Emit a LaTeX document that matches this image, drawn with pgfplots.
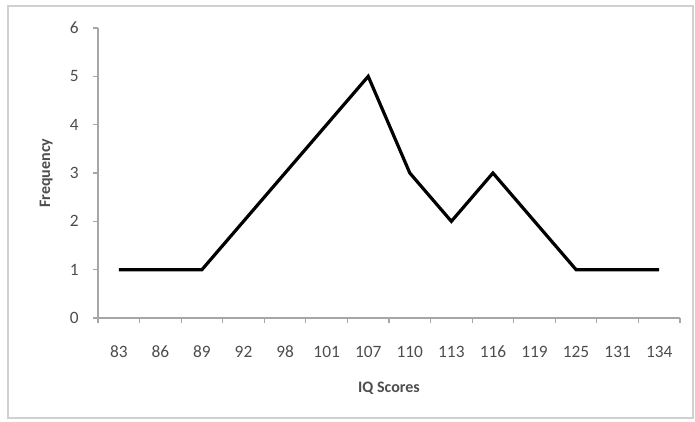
\documentclass[border=0pt]{standalone}
\usepackage{pgfplots}
\pgfplotsset{compat=1.18}
\usepackage{fontspec}
\setmainfont{Carlito}
\definecolor{lbl}{HTML}{4D4D4D}
\definecolor{axl}{HTML}{A6A6A6}
\definecolor{frm}{HTML}{D0D0D0}
\begin{document}
\begin{tikzpicture}[x=0.75pt,y=0.75pt]
\begin{axis}[
  at={(0,0)}, anchor=south west,
  scale only axis,
  width=436.5pt, height=217.5pt,
  xmin=-0.5, xmax=13.5, ymin=0, ymax=6,
  axis x line=bottom, axis y line=left,
  axis line style={-, axl, line width=1.5pt},
  xtick={0,...,13},
  xticklabels={83,86,89,92,98,101,107,110,113,116,119,125,131,134},
  minor xtick={-0.5,0.5,...,13.5},
  major x tick style={draw=none},
  minor tick length=4pt,
  ytick={0,...,6},
  major tick length=4pt,
  tick align=outside,
  tick style={axl, line width=0.9pt},
  /pgf/number format/assume math mode=true,
  ticklabel style={font=\fontsize{13}{15}\selectfont, text=lbl},
  xticklabel style={yshift=-13.5pt},
  yticklabel style={xshift=-7pt},
  xlabel={\textbf{IQ Scores}},
  ylabel={\textbf{Frequency}},
  label style={font=\fontsize{12}{14}\selectfont, text=lbl},
  xlabel style={yshift=-11pt},
  ylabel style={yshift=6pt},
  clip=false,
]
\addplot[black, line width=2.4pt, line join=miter] coordinates {
 (0,1) (1,1) (2,1) (3,2) (4,3) (5,4) (6,5) (7,3) (8,2) (9,3) (10,2) (11,1) (12,1) (13,1)};
\end{axis}
\useasboundingbox (-98,-103) rectangle (597,318);
\draw[frm, line width=1.5pt] (-90,-100) rectangle (595,312);
\end{tikzpicture}
\end{document}
